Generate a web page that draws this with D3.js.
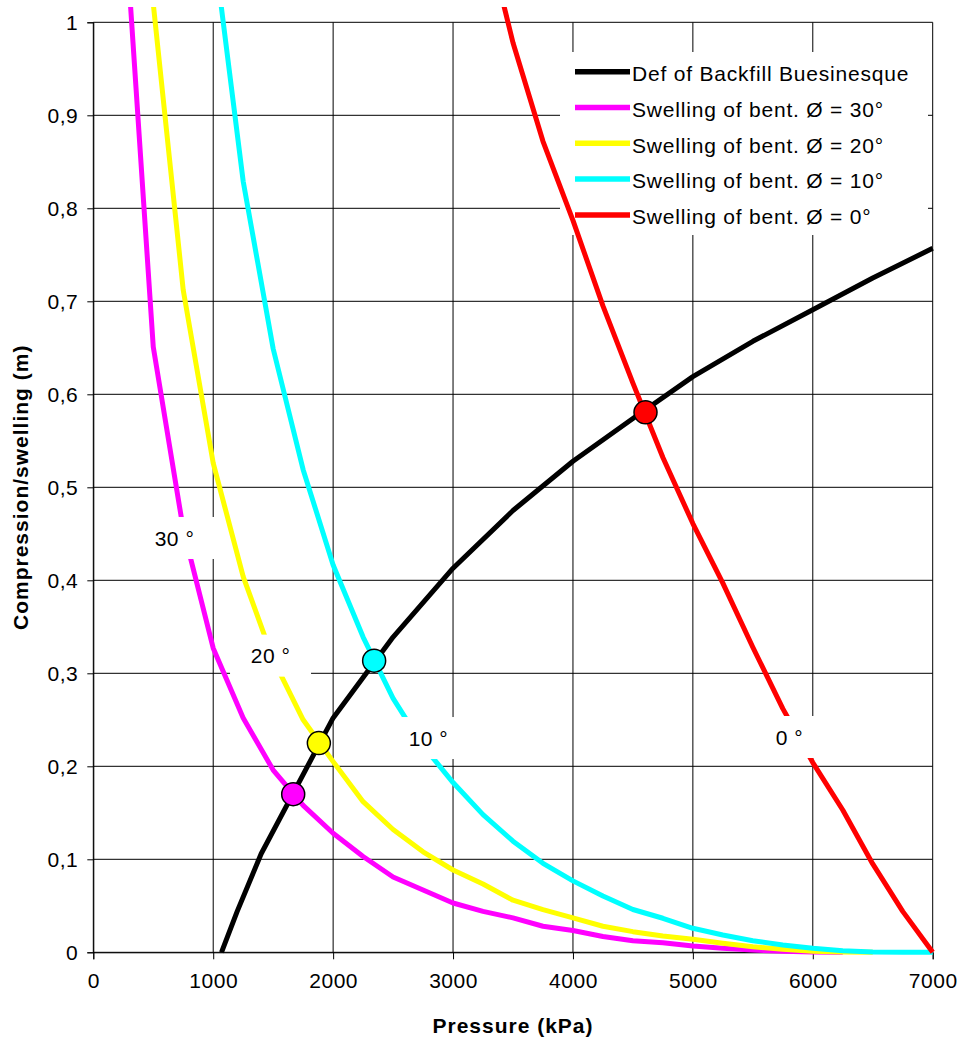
<!DOCTYPE html>
<html>
<head>
<meta charset="utf-8">
<script src="https://cdn.jsdelivr.net/npm/d3@7"></script>
<style>
  html, body { margin: 0; padding: 0; background: #fff; }
  svg { display: block; }
  text { font-family: "Liberation Sans", Arial, sans-serif; fill: #000; }
</style>
</head>
<body>
<svg id="chart" width="962" height="1044"></svg>
<script>
// ---- Data ----------------------------------------------------------------
// Axis ticks
const xTicks = [0, 1000, 2000, 3000, 4000, 5000, 6000, 7000];
const yTicks = [0, 0.1, 0.2, 0.3, 0.4, 0.5, 0.6, 0.7, 0.8, 0.9, 1];
const yTickLabels = ["0", "0,1", "0,2", "0,3", "0,4", "0,5", "0,6", "0,7", "0,8", "0,9", "1"];

// Deformation of backfill (Buesinesque)
const backfillP = [1069, 1200, 1400, 2000, 2500, 3000, 3500, 4000, 4500, 5000, 5500, 6000, 6500, 7000];
const backfillV = [0, 0.044, 0.106, 0.252, 0.339, 0.413, 0.475, 0.528, 0.574, 0.619, 0.657, 0.691, 0.725, 0.757];

// Swelling of bentonite, friction angle 30°
const swell30P = [250, 500, 750, 1000, 1250, 1500, 1750, 2000, 2250, 2500, 2750, 3000, 3250, 3500, 3750, 4000, 4250, 4500, 4750, 5000, 5250, 5500, 5750, 6000, 6250];
const swell30V = [1.135, 0.651, 0.455, 0.327, 0.252, 0.196, 0.158, 0.128, 0.103, 0.081, 0.067, 0.053, 0.044, 0.037, 0.028, 0.0235, 0.017, 0.0125, 0.0103, 0.0068, 0.0043, 0.0025, 0.001, 0.0003, 0];

// Swelling of bentonite, friction angle 20°
const swell20P = [500, 750, 1000, 1250, 1500, 1750, 2000, 2250, 2500, 2750, 3000, 3250, 3500, 3750, 4000, 4250, 4500, 4750, 5000, 5250, 5500, 5750, 6000, 6250, 6500];
const swell20V = [1.02, 0.712, 0.526, 0.404, 0.315, 0.250, 0.205, 0.162, 0.132, 0.108, 0.0885, 0.0735, 0.056, 0.0458, 0.037, 0.028, 0.0222, 0.0175, 0.014, 0.0097, 0.006, 0.0032, 0.001, 0.0002, 0];

// Swelling of bentonite, friction angle 10°
const swell10P = [1000, 1250, 1500, 1750, 2000, 2250, 2500, 2750, 3000, 3250, 3500, 3750, 4000, 4250, 4500, 4750, 5000, 5250, 5500, 5750, 6000, 6250, 6500, 6750, 7000];
const swell10V = [1.086, 0.829, 0.649, 0.519, 0.4165, 0.339, 0.273, 0.222, 0.1825, 0.148, 0.1195, 0.0957, 0.0768, 0.0605, 0.046, 0.0366, 0.0258, 0.0186, 0.0125, 0.0078, 0.0043, 0.0017, 0.0003, 0, 0];

// Swelling of bentonite, friction angle 0°
const swell0P = [3250, 3500, 3750, 4000, 4250, 4500, 4750, 5000, 5250, 5500, 5750, 6000, 6250, 6500, 6750, 7000];
const swell0V = [1.109, 0.978, 0.872, 0.787, 0.695, 0.612, 0.532, 0.461, 0.397, 0.328, 0.262, 0.204, 0.153, 0.095, 0.044, 0];

// Equilibrium points (backfill curve meets each swelling curve)
const eqP = [1667, 1881, 2342, 4605];
const eqV = [0.170, 0.225, 0.3136, 0.5806];
const eqColors = ["#ff00ff", "#ffff00", "#00ffff", "#ff0000"];

// Curve annotations
const angleLabels = ["30 °", "20 °", "10 °", "0 °"];
const angleLabelP = [677, 1478, 2795, 5806];
const angleLabelV = [0.4455, 0.319, 0.2304, 0.2315];

// Legend / series definitions
const seriesNames = [
  "Def of Backfill Buesinesque",
  "Swelling of bent. Ø = 30°",
  "Swelling of bent. Ø = 20°",
  "Swelling of bent. Ø = 10°",
  "Swelling of bent. Ø = 0°"
];
const seriesColors = ["#000000", "#ff00ff", "#ffff00", "#00ffff", "#ff0000"];
const seriesP = [backfillP, swell30P, swell20P, swell10P, swell0P];
const seriesV = [backfillV, swell30V, swell20V, swell10V, swell0V];

// ---- Layout ---------------------------------------------------------------
const svg = d3.select("#chart");
const plotL = 93.3, plotR = 932.7, plotT = 22.3, plotB = 952.3;

const x = d3.scaleLinear().domain([0, 7000]).range([plotL, plotR]);
const y = d3.scaleLinear().domain([0, 1]).range([plotB, plotT]);

// Gridlines
const grid = svg.append("g").attr("stroke", "#000").attr("stroke-width", 1);
grid.selectAll("line.h").data(yTicks).join("line")
  .attr("class", "h")
  .attr("x1", plotL).attr("x2", plotR)
  .attr("y1", d => y(d)).attr("y2", d => y(d));
grid.selectAll("line.v").data(xTicks).join("line")
  .attr("class", "v")
  .attr("x1", d => x(d)).attr("x2", d => x(d))
  .attr("y1", plotT).attr("y2", plotB);

// Axes
const xAxis = d3.axisBottom(x).tickValues(xTicks).tickSize(7).tickPadding(14)
  .tickFormat(d3.format("d"));
const yAxis = d3.axisLeft(y).tickValues(yTicks).tickSize(6).tickPadding(9)
  .tickFormat((d, i) => yTickLabels[i]);

const gx = svg.append("g").attr("transform", `translate(0,${plotB})`).call(xAxis);
const gy = svg.append("g").attr("transform", `translate(${plotL},0)`).call(yAxis);
[gx, gy].forEach(g => {
  g.select(".domain").attr("stroke", "#000").attr("stroke-width", 1);
  g.selectAll(".tick line").attr("stroke", "#000").attr("stroke-width", 1);
  g.selectAll(".tick text")
    .attr("font-family", "'Liberation Sans', Arial, sans-serif")
    .attr("font-size", 21)
    .attr("letter-spacing", "0.5px")
    .attr("fill", "#000");
});
gy.selectAll(".tick text").attr("dy", "0.36em");

// Axis titles
svg.append("text")
  .attr("x", (plotL + plotR) / 2).attr("y", 1033)
  .attr("text-anchor", "middle")
  .attr("font-size", 21).attr("font-weight", "bold")
  .attr("letter-spacing", "1px")
  .text("Pressure (kPa)");
svg.append("text")
  .attr("transform", `translate(28,${(plotT + plotB) / 2}) rotate(-90)`)
  .attr("text-anchor", "middle")
  .attr("font-size", 21).attr("font-weight", "bold")
  .attr("letter-spacing", "1px")
  .text("Compression/swelling (m)");

// Legend background (lines run over it)
const legX = 560, legY = 52, legW = 368, legH = 183;
svg.append("rect")
  .attr("x", legX).attr("y", legY).attr("width", legW).attr("height", legH)
  .attr("fill", "#fff");

// Series lines
svg.append("clipPath").attr("id", "plotClip")
  .append("rect").attr("x", 0).attr("y", 7).attr("width", 962).attr("height", 1037);

const line = d3.line().x(d => x(d[0])).y(d => y(d[1]));
svg.append("g").attr("clip-path", "url(#plotClip)")
  .selectAll("path").data(seriesNames.map((n, i) => ({
    color: seriesColors[i],
    pts: seriesP[i].map((p, j) => [p, seriesV[i][j]])
  })))
  .join("path")
  .attr("d", d => line(d.pts))
  .attr("fill", "none")
  .attr("stroke", d => d.color)
  .attr("stroke-width", 5)
  .attr("stroke-linejoin", "round");

// Equilibrium markers
svg.append("g").selectAll("circle").data(eqP)
  .join("circle")
  .attr("cx", d => x(d))
  .attr("cy", (d, i) => y(eqV[i]))
  .attr("r", 11.5)
  .attr("fill", (d, i) => eqColors[i])
  .attr("stroke", "#000")
  .attr("stroke-width", 1.5);

// Angle annotations with white background boxes
const lab = svg.append("g").selectAll("g").data(angleLabels).join("g")
  .attr("transform", (d, i) => `translate(${x(angleLabelP[i])},${y(angleLabelV[i])})`);
lab.append("rect")
  .attr("x", -40.5).attr("y", -21).attr("width", 81).attr("height", 42)
  .attr("fill", "#fff");
lab.append("text")
  .attr("text-anchor", "middle").attr("dy", "0.36em")
  .attr("font-size", 21).attr("letter-spacing", "0.5px")
  .text(d => d);

// Legend entries
const leg = svg.append("g").selectAll("g").data(seriesNames).join("g")
  .attr("transform", (d, i) => `translate(0,${71.7 + i * 35.8})`);
leg.append("line")
  .attr("x1", 575).attr("x2", 630).attr("y1", 0).attr("y2", 0)
  .attr("stroke", (d, i) => seriesColors[i])
  .attr("stroke-width", 5.5);
leg.append("text")
  .attr("x", 632).attr("y", 9.3)
  .attr("font-size", 21).attr("letter-spacing", "0.8px")
  .text(d => d);
</script>
</body>
</html>
